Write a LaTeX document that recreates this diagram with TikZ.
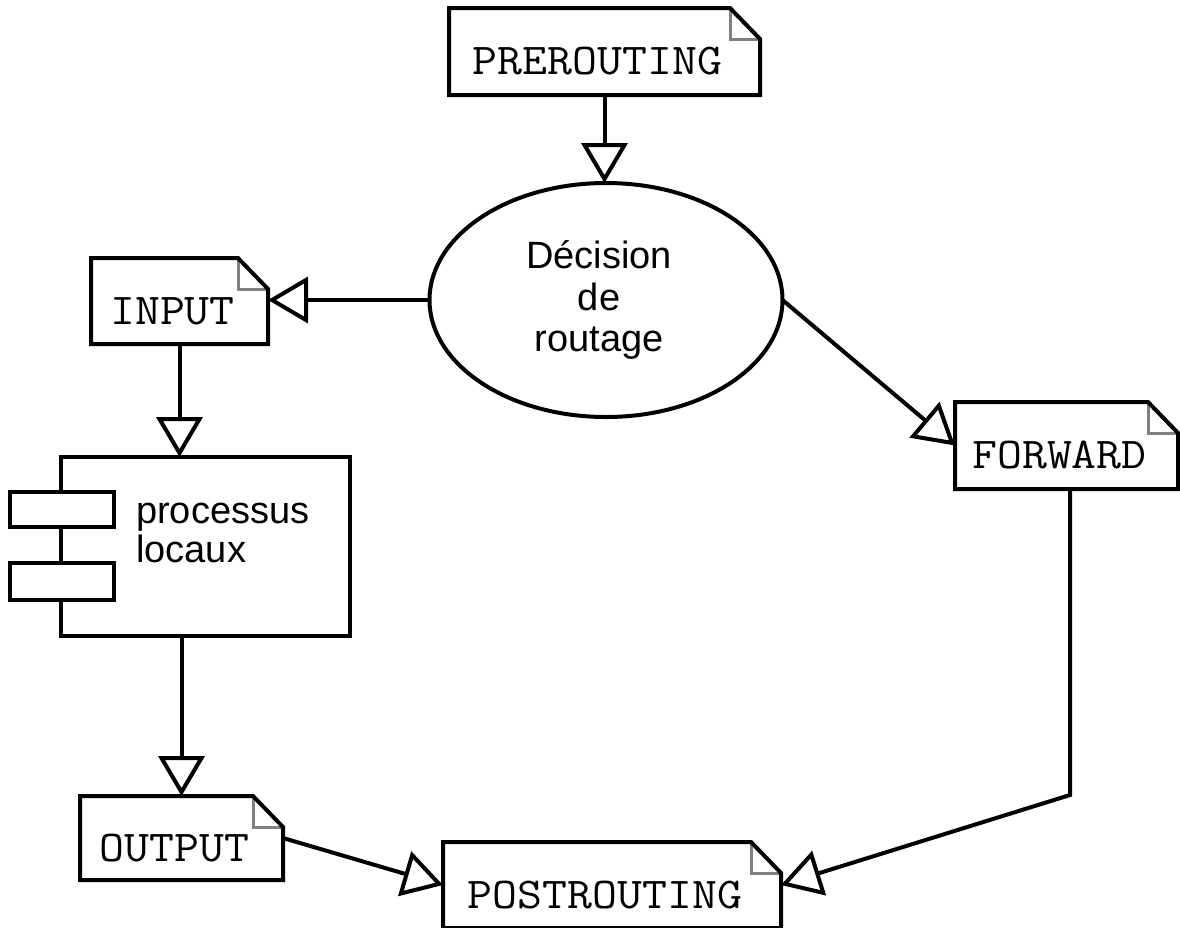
\documentclass[tikz,border=0pt]{standalone}
\usepackage{fontspec}
\usepackage{graphicx}
\usetikzlibrary{arrows.meta,shapes.geometric}
\newfontfamily\lsans{Liberation Sans}
\tikzset{
  ln/.style={line width=4pt, draw=black},
  arr/.style={line width=4pt, draw=black, -{Triangle[open, length=40pt, width=46pt]}},
  notebox/.style={inner sep=0pt, outer sep=0pt, minimum height=87pt},
  notetxt/.style={font=\fontsize{44}{50}\selectfont\ttfamily, inner sep=0pt},
  fold/.style={line width=3pt, draw=black!50},
  sanstxt/.style={font=\fontsize{38}{41}\selectfont\lsans, inner sep=0pt},
  smallrect/.style={ln, fill=white, inner sep=0pt, outer sep=0pt, minimum width=104pt},
}
\newcommand{\notebox}[6]{%
  \node[notebox, minimum width=#4pt, minimum height=#5pt] (#1) at (#2,#3) {};
  \node[notetxt] (#1-t) at ([xshift=-7pt,yshift=-10pt]#1.center) {\scalebox{1.1}[1]{#6}};
  \draw[fold] ([xshift=-30pt]#1.north east) |- ([yshift=-31pt]#1.north east);
  \draw[ln, line join=miter] (#1.north west) -- ([xshift=-30pt]#1.north east) -- ([yshift=-31pt]#1.north east) -- (#1.south east) -- (#1.south west) -- cycle;
}
\begin{document}
\begin{tikzpicture}[x=1pt, y=-1pt]
\useasboundingbox (0,0) rectangle (1180,927);
\clip (0,0) rectangle (1180,927);
\fill[white] (0,0) rectangle (1180,927);

% notes
\notebox{pre}{604.5}{51.5}{311}{87}{PREROUTING}
\notebox{inp}{179.5}{301}{177}{86}{INPUT}
\notebox{fwd}{1066.5}{445.5}{223}{87}{FORWARD}
\notebox{out}{181.5}{838}{203}{84}{OUTPUT}
\notebox{post}{612}{885}{338}{86}{POSTROUTING}

% decision ellipse
\node[ellipse, ln, inner sep=0pt, outer sep=0pt, minimum width=353pt, minimum height=234pt] (ell) at (606,300) {};
\node[sanstxt, anchor=base] (ell-t1) at (599,268) {Décision};
\node[sanstxt, anchor=base] (ell-t2) at (599,310) {de};
\node[sanstxt, anchor=base] (ell-t3) at (599,351) {routage};

% component
\node[ln, inner sep=0pt, outer sep=0pt, minimum width=289pt, minimum height=179pt] (comp) at (205.5,546.5) {};
\node[smallrect, minimum height=35pt] (comp-r1) at (62,509.5) {};
\node[smallrect, minimum height=37pt] (comp-r2) at (62,581.5) {};
\node[sanstxt, anchor=base west] (comp-t1) at (136,523) {processus};
\node[sanstxt, anchor=base west] (comp-t2) at (136,562) {locaux};

% connectors
\draw[arr] (pre.south) -- (pre.south |- ell.north);
\draw[arr] (ell.west) -- (ell.west -| inp.east);
\draw[arr] (inp.south) -- (inp.south |- comp.north);
\draw[arr] (out.north |- comp.south) -- (out.north);
\draw[arr] (ell.east) -- (fwd.west);
\coordinate (bend) at (1070,795);
\draw[arr, line join=miter] (bend |- fwd.south) -- (bend) -- (post.east);
\draw[arr] (out.east) -- (post.west);
\end{tikzpicture}
\end{document}
